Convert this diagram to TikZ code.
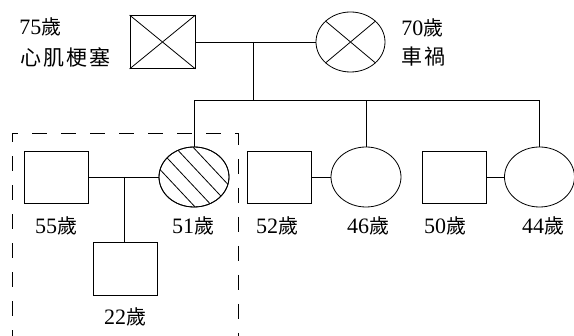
\documentclass[tikz,border=0pt]{standalone}
\usepackage{fontspec}
\setmainfont{Liberation Serif}
\newfontfamily\cjk{Noto Sans CJK TC}
\newfontfamily\cjkwide[LetterSpace=9]{Noto Sans CJK TC}
\usetikzlibrary{shapes.geometric}
\newcommand\sui{{\cjk\fontsize{20pt}{24pt}\selectfont 歲}}
\begin{document}
\begin{tikzpicture}[x=1pt,y=-1pt,line width=0.8pt,
  male/.style={draw,rectangle,minimum width=64pt,minimum height=52pt,inner sep=0pt},
  female/.style={draw,ellipse,minimum width=70pt,minimum height=60pt,inner sep=0pt},
  lbl/.style={inner sep=0pt,font=\fontsize{22pt}{26pt}\selectfont},
  boxframe/.style={draw,dash pattern=on 15pt off 14pt}]
\useasboundingbox (0,0) rectangle (574,336);
% grandparents
\node[male,minimum width=65pt,minimum height=53pt] (gf) at (162.5,42) {};
\draw (gf.north west) -- (gf.south east) (gf.north east) -- (gf.south west);
\node[female,minimum width=69pt] (gm) at (350.5,42) {};
\draw (gm.140) -- (gm.-40) (gm.40) -- (gm.-140);
\node[lbl,anchor=west] (tgf1) at (19,27) {75\sui};
\node[lbl,anchor=west] (tgf2) at (20,58) {{\cjkwide\fontsize{21pt}{24pt}\selectfont 心肌梗塞}};
\node[lbl,anchor=west] (tgm1) at (401,28) {70\sui};
\node[lbl,anchor=west] (tgm2) at (401,57) {{\cjkwide\fontsize{21pt}{24pt}\selectfont 車禍}};
\draw (gf.east) -- (gm.west);
\coordinate (m1) at (253,42);
\coordinate (bar) at (253,100);
\draw (m1) -- (bar);
% children generation
\node[female] (p51) at (194,177) {};
\node[female] (p46) at (366,177) {};
\node[female] (p44) at (539.5,177) {};
\node[male] (p55) at (56,177) {};
\node[male] (p52) at (279.5,177) {};
\node[male] (p50) at (454,177) {};
\node[male,minimum height=53pt] (p22) at (125,268.5) {};
\draw (p51.north) -- (p51.north |- bar) -- (p44.north |- bar) -- (p44.north);
\draw (p46.north) -- (p46.north |- bar);
% hatching
\begin{scope}
\clip (194,177) ellipse [x radius=35pt,y radius=30pt];
\foreach \o in {-27,-9,9,27}{
  \draw (194+\o-45,177-48) -- (194+\o+45,177+48);
}
\end{scope}
\draw (p51.center) ellipse [x radius=35pt,y radius=30pt];
% couples
\draw (p55.east) -- (p51.west);
\draw (p52.east) -- (p46.west);
\draw (p50.east) -- (p44.west);
\coordinate (c1) at (124,177);
\draw (c1) -- (c1 |- p22.north);
% labels
\node[lbl] (t55) at (56,226) {55\sui};
\node[lbl] (t51) at (193,226) {51\sui};
\node[lbl] (t22) at (125,317) {22\sui};
\node[lbl] (t52) at (277,226) {52\sui};
\node[lbl] (t46) at (368,226) {46\sui};
\node[lbl] (t50) at (445,226) {50\sui};
\node[lbl] (t44) at (543,226) {44\sui};
% dashed frame
\draw[boxframe] (12,345) -- (12,133) -- (238,133) -- (238,345);
\end{tikzpicture}
\end{document}
